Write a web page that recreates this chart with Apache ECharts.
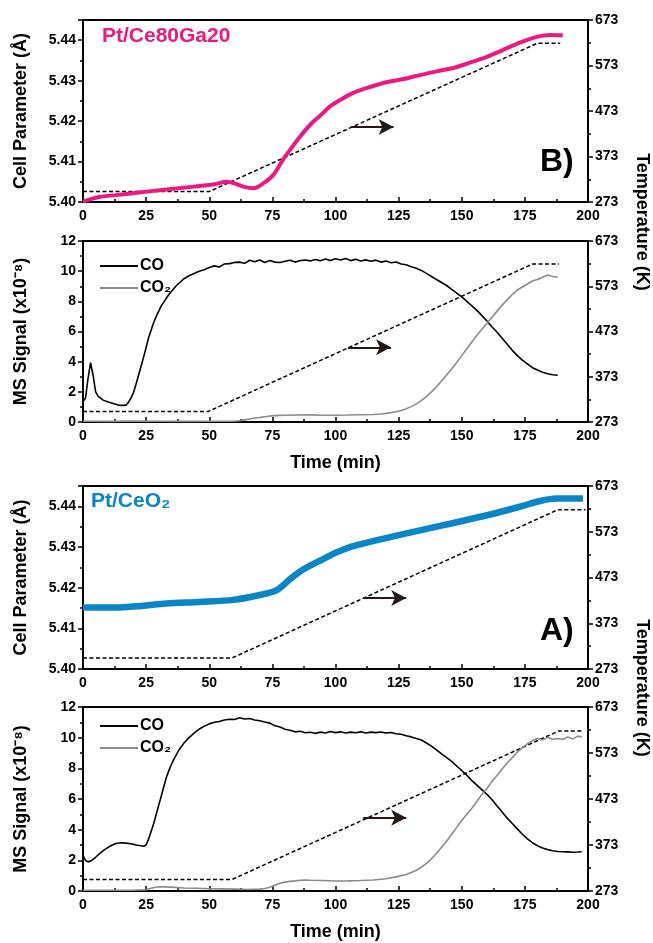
<!DOCTYPE html>
<html>
<head>
<meta charset="UTF-8">
<title>Cell parameter / MS signal vs time</title>
<script src="https://cdn.jsdelivr.net/npm/echarts@6/dist/echarts.min.js"></script>
<style>
body { margin: 0; padding: 0; background: #fff; }
#main { width: 653px; height: 943px; }
</style>
</head>
<body>
<div id="main"></div>
<script>
// ---- panel B (Pt/Ce80Ga20) ----
var cellB_t = [0, 3, 7, 13, 23, 33, 44, 52, 57, 60, 63.5, 67.5, 71.4, 75.4, 78.7, 82, 86, 90, 94, 98, 102, 107, 114, 120, 127, 133, 140, 147, 153, 160, 166, 173, 180, 185, 190];
var cellB_v = [5.4001, 5.4007, 5.4013, 5.4017, 5.4024, 5.4031, 5.4038, 5.4044, 5.4050, 5.4046, 5.4038, 5.4034, 5.4046, 5.4067, 5.4100, 5.4129, 5.4162, 5.4191, 5.4214, 5.4237, 5.4253, 5.4270, 5.4285, 5.4296, 5.4304, 5.4313, 5.4323, 5.4332, 5.4344, 5.4359, 5.4375, 5.4394, 5.4409, 5.4413, 5.4412];
var tempB1_t = [0, 50, 180, 189];
var tempB1_v = [296, 296, 622, 622];

var coB_t = [0, 1, 2, 3, 4, 5, 6, 8, 10, 12, 14, 16, 17, 18, 19, 20, 21, 22, 23, 24, 25, 26, 27, 28, 29, 30, 31, 32, 33, 34, 35, 36, 37, 38, 39, 40, 42, 44, 46, 48, 50, 52, 54, 56, 58, 60, 62, 64, 66, 68, 70, 72, 74, 76, 78, 80, 82, 84, 86, 88, 90, 92, 94, 96, 98, 100, 102, 104, 106, 108, 110, 112, 114, 116, 118, 120, 122, 124, 126, 128, 130, 132, 134, 136, 138, 140, 142, 144, 146, 148, 150, 152, 154, 156, 158, 160, 162, 164, 166, 168, 170, 172, 174, 176, 178, 180, 182, 184, 186, 188];
var coB_v = [1.34, 1.6, 2.9, 3.93, 3.1, 2.0, 1.7, 1.45, 1.32, 1.22, 1.12, 1.1, 1.12, 1.3, 1.6, 1.95, 2.5, 3.1, 3.7, 4.3, 4.95, 5.6, 6.1, 6.6, 7.0, 7.35, 7.7, 7.95, 8.2, 8.45, 8.65, 8.85, 9.05, 9.2, 9.35, 9.5, 9.7, 9.85, 10.0, 10.1, 10.25, 10.35, 10.28, 10.48, 10.5, 10.58, 10.6, 10.52, 10.72, 10.62, 10.74, 10.58, 10.7, 10.6, 10.57, 10.66, 10.72, 10.6, 10.7, 10.74, 10.68, 10.77, 10.69, 10.8, 10.71, 10.82, 10.74, 10.84, 10.7, 10.79, 10.68, 10.75, 10.66, 10.73, 10.6, 10.67, 10.56, 10.61, 10.47, 10.43, 10.3, 10.2, 10.05, 9.85, 9.65, 9.45, 9.25, 9.05, 8.8, 8.55, 8.3, 8.0, 7.7, 7.4, 7.05, 6.7, 6.3, 5.95, 5.55, 5.15, 4.75, 4.4, 4.1, 3.85, 3.6, 3.45, 3.3, 3.2, 3.13, 3.1];
var co2B_t = [0, 10, 20, 30, 40, 50, 60, 62, 64, 66, 68, 70, 72, 74, 76, 78, 80, 85, 90, 95, 100, 105, 110, 115, 118, 120, 122, 124, 126, 128, 130, 132, 134, 136, 138, 140, 142, 144, 146, 148, 150, 152, 154, 156, 158, 160, 162, 164, 166, 168, 170, 172, 174, 176, 178, 180, 182, 184, 186, 188];
var co2B_v = [0.05, 0.04, 0.06, 0.05, 0.04, 0.05, 0.06, 0.08, 0.14, 0.2, 0.26, 0.3, 0.35, 0.4, 0.42, 0.44, 0.45, 0.46, 0.47, 0.45, 0.45, 0.46, 0.48, 0.5, 0.53, 0.57, 0.62, 0.68, 0.76, 0.88, 1.02, 1.2, 1.42, 1.68, 2.0, 2.34, 2.72, 3.12, 3.52, 3.95, 4.4, 4.85, 5.3, 5.75, 6.15, 6.54, 6.95, 7.35, 7.75, 8.1, 8.45, 8.75, 8.95, 9.15, 9.35, 9.45, 9.6, 9.75, 9.65, 9.6];
var tempB2_t = [0, 49.5, 178, 188.5];
var tempB2_v = [296, 296, 622, 622];

// ---- panel A (Pt/CeO2) ----
var cellA_t = [0, 13, 23, 33, 46, 59.5, 70, 76.7, 82, 87.3, 92.5, 97.8, 100.5, 107, 120, 133.5, 146.7, 160, 173, 181, 187.6, 198];
var cellA_v = [5.4151, 5.4151, 5.4155, 5.4161, 5.4165, 5.4170, 5.4182, 5.4194, 5.4221, 5.4245, 5.4262, 5.4279, 5.4287, 5.4302, 5.4322, 5.4341, 5.4359, 5.4378, 5.4399, 5.4413, 5.4419, 5.4419];
var tempA1_t = [0, 59, 188, 199];
var tempA1_v = [297, 297, 621, 621];

var coA_t = [0, 1, 2, 3, 5, 7, 9, 11, 13, 15, 17, 19, 21, 23, 24, 25, 26, 27, 28, 29, 30, 31, 32, 33, 34, 35, 36, 37, 38, 40, 42, 44, 46, 48, 50, 52, 54, 56, 58, 60, 62, 64, 66, 68, 70, 72, 74, 76, 78, 80, 82, 84, 86, 88, 90, 92, 94, 96, 98, 100, 102, 104, 106, 108, 110, 112, 114, 116, 118, 120, 122, 124, 126, 128, 130, 132, 134, 136, 138, 140, 142, 144, 146, 148, 150, 152, 154, 156, 158, 160, 162, 164, 166, 168, 170, 172, 174, 176, 178, 180, 182, 184, 186, 188, 190, 192, 194, 196, 197.5];
var coA_v = [2.3, 2.0, 1.9, 1.95, 2.2, 2.5, 2.75, 2.95, 3.1, 3.15, 3.12, 3.08, 3.0, 2.95, 2.92, 3.0, 3.4, 3.9, 4.4, 5.0, 5.6, 6.2, 6.8, 7.4, 7.85, 8.25, 8.6, 8.9, 9.2, 9.65, 10.0, 10.3, 10.55, 10.75, 10.9, 11.0, 11.05, 11.15, 11.2, 11.18, 11.3, 11.22, 11.25, 11.15, 11.1, 11.02, 10.95, 10.78, 10.7, 10.55, 10.48, 10.38, 10.42, 10.32, 10.35, 10.28, 10.36, 10.3, 10.4, 10.33, 10.38, 10.3, 10.36, 10.32, 10.38, 10.3, 10.36, 10.33, 10.37, 10.3, 10.34, 10.26, 10.22, 10.12, 10.05, 9.95, 9.85, 9.65, 9.45, 9.2, 8.95, 8.7, 8.45, 8.15, 7.85, 7.55, 7.2, 6.9, 6.6, 6.3, 5.95, 5.55, 5.15, 4.75, 4.4, 4.05, 3.7, 3.4, 3.15, 2.95, 2.8, 2.7, 2.62, 2.58, 2.56, 2.55, 2.53, 2.54, 2.56];
var co2A_t = [0, 10, 20, 25, 27, 29, 31, 35, 40, 45, 50, 55, 60, 65, 70, 72, 74, 76, 78, 80, 82, 84, 86, 88, 90, 95, 100, 105, 110, 115, 120, 124, 128, 130, 132, 134, 136, 138, 140, 142, 144, 146, 148, 150, 152, 154, 156, 158, 160, 162, 164, 166, 168, 170, 172, 174, 176, 178, 180, 182, 184, 186, 188, 190, 192, 194, 196, 197.5];
var co2A_v = [0.05, 0.05, 0.06, 0.08, 0.18, 0.26, 0.28, 0.25, 0.2, 0.18, 0.15, 0.14, 0.12, 0.1, 0.12, 0.16, 0.25, 0.38, 0.5, 0.58, 0.63, 0.66, 0.7, 0.72, 0.7, 0.68, 0.65, 0.66, 0.68, 0.72, 0.8, 0.92, 1.08, 1.2, 1.35, 1.55, 1.8, 2.1, 2.45, 2.85, 3.25, 3.7, 4.15, 4.6, 5.0, 5.4, 5.85, 6.3, 6.7, 7.15, 7.55, 7.95, 8.35, 8.7, 9.05, 9.35, 9.6, 9.8, 9.95, 9.85, 10.02, 9.9, 9.95, 9.88, 10.05, 9.92, 10.1, 10.05];
var tempA2_t = [0, 59, 188.5, 197.6];
var tempA2_v = [298, 298, 621, 621];

// arrows next to the temperature lines: [x start, x end, temperature]
var arrowB1 = [106, 123, 438];
var arrowB2 = [105, 122, 438];
var arrowA1 = [111, 128, 428];
var arrowA2 = [111, 128, 432];

var timeTicks = [0, 200, 25];
var tempTicks = [273, 673, 100];

function zip(t, v) {
    var out = [];
    for (var i = 0; i < t.length; i++) out.push([t[i], v[i]]);
    return out;
}

var FONT = '"Liberation Sans", Arial, sans-serif';
var MAGENTA = '#ec1a80';
var BLUE = '#0a86c6';

function xAx(gi, withName) {
    return {
        type: 'value', gridIndex: gi,
        min: timeTicks[0], max: timeTicks[1], interval: timeTicks[2],
        axisLine: { onZero: false, lineStyle: { color: '#000', width: 2 } },
        axisTick: { inside: true, length: 5, lineStyle: { color: '#000', width: 1.5 } },
        minorTick: { show: true, splitNumber: 2, length: 3, lineStyle: { color: '#000', width: 1.5 } },
        splitLine: { show: false },
        axisLabel: { color: '#000', fontFamily: FONT, fontWeight: 'bold', fontSize: 14, margin: 7 },
        name: withName ? 'Time (min)' : '',
        nameLocation: 'middle', nameGap: 32,
        nameTextStyle: { color: '#000', fontFamily: FONT, fontWeight: 'bold', fontSize: 18 }
    };
}

function leftAx(gi, min, max, interval, name, fmt) {
    return {
        type: 'value', gridIndex: gi, position: 'left',
        min: min, max: max, interval: interval,
        axisLine: { show: true, onZero: false, lineStyle: { color: '#000', width: 2 } },
        axisTick: { show: true, inside: false, length: 5, lineStyle: { color: '#000', width: 1.5 } },
        minorTick: { show: true, splitNumber: 2, length: 3, lineStyle: { color: '#000', width: 1.5 } },
        splitLine: { show: false },
        axisLabel: { color: '#000', fontFamily: FONT, fontWeight: 'bold', fontSize: 14, margin: 7, formatter: fmt },
        name: name, nameLocation: 'middle', nameGap: 53,
        nameTextStyle: { color: '#000', fontFamily: FONT, fontWeight: 'bold', fontSize: 18 }
    };
}

function rightAx(gi) {
    return {
        type: 'value', gridIndex: gi, position: 'right',
        min: tempTicks[0], max: tempTicks[1], interval: tempTicks[2],
        axisLine: { show: true, onZero: false, lineStyle: { color: '#000', width: 2 } },
        axisTick: { show: true, inside: false, length: 5, lineStyle: { color: '#000', width: 1.5 } },
        minorTick: { show: true, splitNumber: 2, length: 3, lineStyle: { color: '#000', width: 1.5 } },
        splitLine: { show: false },
        axisLabel: { color: '#000', fontFamily: FONT, fontWeight: 'bold', fontSize: 14, margin: 7 }
    };
}

function cellFmt(v) {
    var k = Math.round(v * 100);
    return Math.abs(v * 100 - k) < 1e-6 ? (k / 100).toFixed(2) : '';
}

function tempSeries(xi, yi, t, v, arrow) {
    return {
        type: 'line', xAxisIndex: xi, yAxisIndex: yi,
        data: zip(t, v), symbol: 'none', silent: true, z: 1,
        lineStyle: { color: '#000', width: 1.5, type: [4, 2.5] },
        markLine: {
            silent: true, animation: false,
            symbol: ['none', 'arrow'], symbolSize: [12, 15],
            label: { show: false },
            lineStyle: { color: '#231815', width: 1.8, type: 'solid' },
            data: [[{ coord: [arrow[0], arrow[2]] }, { coord: [arrow[1], arrow[2]] }]]
        }
    };
}

function msSeries(xi, yi, name, t, v, color) {
    return {
        name: name, type: 'line', xAxisIndex: xi, yAxisIndex: yi,
        data: zip(t, v), symbol: 'none', z: 3,
        itemStyle: { color: color },
        lineStyle: { color: color, width: 1.6 }
    };
}

var grids = [
    { left: 83, right: 65, top: 20, height: 182 },
    { left: 83, right: 65, top: 241, height: 181 },
    { left: 83, right: 65, top: 486, height: 183 },
    { left: 83, right: 65, top: 707, height: 184 }
];
grids.forEach(function (g) {
    g.show = true; g.borderColor = '#000'; g.borderWidth = 2; g.backgroundColor = 'transparent';
});

var legendStyle = {
    orient: 'vertical', left: 95, itemWidth: 38, itemHeight: 14, itemGap: 6,
    icon: 'path://M0,0 L38,0 L38,2 L0,2 Z',
    textStyle: { color: '#000', fontFamily: FONT, fontWeight: 'bold', fontSize: 16, padding: [0, 0, 0, -3] },
    data: ['CO', 'CO\u2082'], selectedMode: false
};

var option = {
    animation: false,
    backgroundColor: '#fff',
    grid: grids,
    legend: [
        Object.assign({}, legendStyle, { top: 253 }),
        Object.assign({}, legendStyle, { top: 713 })
    ],
    xAxis: [xAx(0, false), xAx(1, true), xAx(2, false), xAx(3, true)],
    yAxis: [
        leftAx(0, 5.40, 5.445, 0.01, 'Cell Parameter (\u00c5)', cellFmt),
        rightAx(0),
        leftAx(1, 0, 12, 2, 'MS Signal (x10\u207b\u2078)'),
        rightAx(1),
        leftAx(2, 5.40, 5.445, 0.01, 'Cell Parameter (\u00c5)', cellFmt),
        rightAx(2),
        leftAx(3, 0, 12, 2, 'MS Signal (x10\u207b\u2078)'),
        rightAx(3)
    ],
    series: [
        tempSeries(0, 1, tempB1_t, tempB1_v, arrowB1),
        {
            type: 'line', xAxisIndex: 0, yAxisIndex: 0, data: zip(cellB_t, cellB_v),
            symbol: 'none', smooth: 0.3, z: 2, lineStyle: { color: MAGENTA, width: 4 }
        },
        tempSeries(1, 3, tempB2_t, tempB2_v, arrowB2),
        msSeries(1, 2, 'CO', coB_t, coB_v, '#000'),
        msSeries(1, 2, 'CO\u2082', co2B_t, co2B_v, '#8a8a8a'),
        tempSeries(2, 5, tempA1_t, tempA1_v, arrowA1),
        {
            type: 'line', xAxisIndex: 2, yAxisIndex: 4, data: zip(cellA_t, cellA_v),
            symbol: 'none', smooth: 0.3, z: 2, lineStyle: { color: BLUE, width: 6.5 }
        },
        tempSeries(3, 7, tempA2_t, tempA2_v, arrowA2),
        msSeries(3, 6, 'CO', coA_t, coA_v, '#000'),
        msSeries(3, 6, 'CO\u2082', co2A_t, co2A_v, '#8a8a8a')
    ],
    graphic: [
        { type: 'text', left: 102, top: 26, style: { text: 'Pt/Ce80Ga20', fill: MAGENTA, font: 'bold 21px ' + FONT } },
        { type: 'text', left: 91, top: 491, style: { text: 'Pt/CeO\u2082', fill: BLUE, font: 'bold 21px ' + FONT } },
        { type: 'text', left: 540, top: 146, style: { text: 'B)', fill: '#000', font: 'bold 32px ' + FONT } },
        { type: 'text', left: 540, top: 615, style: { text: 'A)', fill: '#000', font: 'bold 32px ' + FONT } },
        { type: 'text', x: 642, y: 222, rotation: -Math.PI / 2,
          style: { text: 'Temperature (K)', fill: '#000', font: 'bold 18px ' + FONT, textAlign: 'center', textVerticalAlign: 'middle' } },
        { type: 'text', x: 642, y: 688, rotation: -Math.PI / 2,
          style: { text: 'Temperature (K)', fill: '#000', font: 'bold 18px ' + FONT, textAlign: 'center', textVerticalAlign: 'middle' } }
    ]
};

var myChart = echarts.init(document.getElementById('main'), null, { renderer: 'canvas' });
myChart.setOption(option);
</script>
</body>
</html>
